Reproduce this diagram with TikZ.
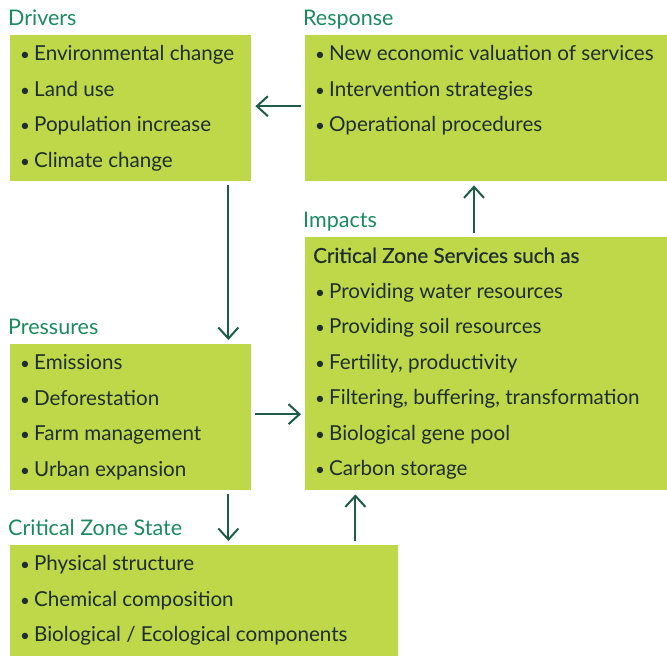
\documentclass[tikz,border=0pt]{standalone}
\usepackage{fontspec}
\setmainfont{Lato}
\newfontfamily\headfont[FakeBold=0.6]{Lato}
\usetikzlibrary{positioning,arrows.meta}

\definecolor{lime}{HTML}{BED849}
\definecolor{titlegreen}{HTML}{1B8A5F}
\definecolor{arrowgreen}{HTML}{1E5C48}
\definecolor{itemtext}{HTML}{1F2D2D}

\tikzset{
  box/.style={fill=lime, inner sep=0pt, anchor=north west},
  title/.style={text=titlegreen, font=\fontsize{21.5}{24}\selectfont, inner sep=0pt},
  items/.style={text=itemtext, font=\fontsize{20.6}{35.5}\selectfont, align=left, inner sep=0pt},
  arr/.style={draw=arrowgreen, line width=2pt, -{Straight Barb[length=11pt,width=20pt]},
    shorten <=4pt, shorten >=4pt}
}
\newcommand{\itm}{{\fontsize{17}{20}\selectfont•}\hspace{0.2em}}

\begin{document}
\begin{tikzpicture}[x=1pt, y=-1pt]
  \useasboundingbox (0,0) rectangle (667,656);

  % Boxes
  \node[box, minimum width=241pt, minimum height=146pt] (drv) at (10,35) {};
  \node[box, minimum width=362pt, minimum height=146pt] (rsp) at (305,35) {};
  \node[box, minimum width=241pt, minimum height=146pt] (prs) at (10,344) {};
  \node[box, minimum width=362pt, minimum height=253pt] (imp) at (305,237) {};
  \node[box, minimum width=388pt, minimum height=111pt] (czs) at (10,545) {};

  % Titles
  \node[title, above right=10pt and -2pt of drv.north west, anchor=base west] (drvtitle) {Drivers};
  \node[title, above right=10pt and -2pt of rsp.north west, anchor=base west] (rsptitle) {Response};
  \node[title, above right=10pt and -2pt of prs.north west, anchor=base west] (prstitle) {Pressures};
  \node[title, above right=10pt and -2pt of imp.north west, anchor=base west] (imptitle) {Impacts};
  \node[title, above right=10pt and -2pt of czs.north west, anchor=base west] (czstitle) {Critical Zone State};

  % Lists
  \node[items, below right=10.5pt and 10pt of drv.north west, anchor=north west] (drvlist)
    {\itm Environmental change\\ \itm Land use\\ \itm Population increase\\ \itm Climate change};
  \node[items, below right=10.5pt and 10pt of rsp.north west, anchor=north west] (rsplist)
    {\itm New economic valuation of services\\ \itm Intervention strategies\\ \itm Operational procedures};
  \node[items, below right=10.5pt and 10pt of prs.north west, anchor=north west] (prslist)
    {\itm Emissions\\ \itm Deforestation\\ \itm Farm management\\ \itm Urban expansion};
  \node[items, below right=10.5pt and 8pt of imp.north west, anchor=north west] (implist)
    {{\headfont Critical Zone Services such as}\\
     \hspace*{2pt}\itm Providing water resources\\ \hspace*{2pt}\itm Providing soil resources\\
     \hspace*{2pt}\itm Fertility, productivity\\ \hspace*{2pt}\itm Filtering, buffering, transformation\\
     \hspace*{2pt}\itm Biological gene pool\\ \hspace*{2pt}\itm Carbon storage};
  \node[items, below right=10.5pt and 10pt of czs.north west, anchor=north west] (czslist)
    {\itm Physical structure\\ \itm Chemical composition\\ \itm Biological / Ecological components};

  % Connect the boxes
  \draw[arr] ([yshift=2pt]rsp.west) -- ([yshift=2pt]drv.east);
  \draw[arr] ([xshift=-23pt]drv.south east) -- ([xshift=-23pt]drv.south east |- prs.north);
  \draw[arr] ([yshift=3pt]prs.east) -- ([yshift=3pt]prs.east -| imp.west);
  \draw[arr] ([xshift=-23pt]prs.south east) -- ([xshift=-23pt]prs.south east |- czs.north);
  \draw[arr] ([xshift=-43pt]czs.north east) -- ([xshift=-43pt]czs.north east |- imp.south);
  \draw[arr] ([xshift=169pt]imp.north west) -- ([xshift=169pt]imp.north west |- rsp.south);

\end{tikzpicture}
\end{document}
